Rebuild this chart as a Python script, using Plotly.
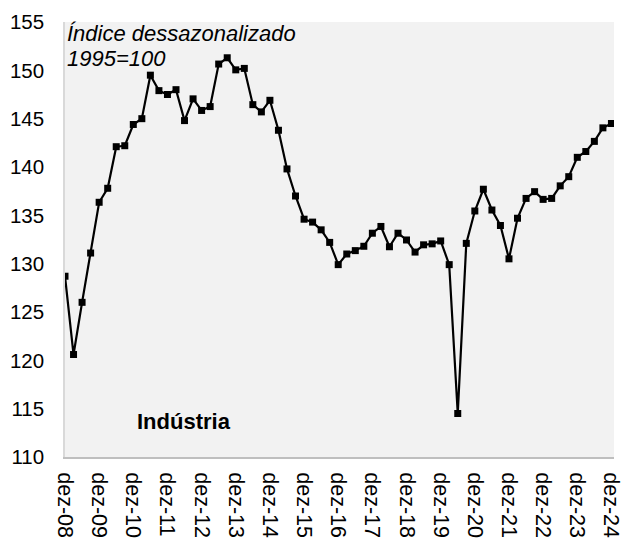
import plotly.graph_objects as go

# Quarterly index, dez-08 ... dez-24
quarters = list(range(65))
values = [
    128.7, 120.6, 126.0, 131.1,   # dez-08, mar-09, jun-09, set-09
    136.35, 137.8, 142.1, 142.2,  # dez-09 ...
    144.4, 145.0, 149.5, 147.9,   # dez-10 ...
    147.5, 148.0, 144.8, 147.05,  # dez-11 ...
    145.85, 146.25, 150.65, 151.3,  # dez-12 ...
    150.05, 150.2, 146.45, 145.7,   # dez-13 ...
    146.9, 143.8, 139.8, 137.0,     # dez-14 ...
    134.6, 134.3, 133.5, 132.2,     # dez-15 ...
    129.9, 131.0, 131.35, 131.8,    # dez-16 ...
    133.15, 133.85, 131.75, 133.15, # dez-17 ...
    132.45, 131.2, 131.95, 132.05,  # dez-18 ...
    132.35, 129.9, 114.5, 132.1,    # dez-19 ...
    135.45, 137.7, 135.55, 133.95,  # dez-20 ...
    130.5, 134.7, 136.75, 137.45,   # dez-21 ...
    136.65, 136.75, 138.05, 139.0,  # dez-22 ...
    141.0, 141.6, 142.65, 144.05,   # dez-23 ...
    144.5,                          # dez-24
]
tick_positions = list(range(0, 65, 4))
tick_labels = ["dez-%02d" % y for y in range(8, 25)]
y_ticks = list(range(110, 156, 5))

FONT = "Liberation Sans, Arial, sans-serif"

fig = go.Figure()
fig.add_trace(go.Scatter(
    x=quarters, y=values, mode="lines+markers",
    line=dict(color="black", width=2.2),
    marker=dict(symbol="square", size=7, color="black"),
    cliponaxis=True, showlegend=False, hoverinfo="skip",
))

fig.update_layout(
    width=624, height=539,
    margin=dict(l=65, r=10, t=22, b=82),
    paper_bgcolor="white", plot_bgcolor="#F2F2F2",
    font=dict(family=FONT, size=20, color="black"),
    xaxis=dict(
        range=[0, 64.3], tickmode="array", tickvals=tick_positions,
        ticktext=tick_labels, tickangle=90, showgrid=False, zeroline=False,
        showline=True, linecolor="#BFBFBF", linewidth=2, ticks="",
        tickfont=dict(size=21.5, family=FONT), automargin=False,
        ticklabelstandoff=9,
    ),
    yaxis=dict(
        range=[110, 155], tickmode="array", tickvals=y_ticks,
        showgrid=False, zeroline=False, showline=True, linecolor="#D9D9D9",
        linewidth=1.5, ticks="", tickfont=dict(size=20.5, family=FONT),
        automargin=False, ticklabelstandoff=15,
    ),
    annotations=[
        dict(text="<i>Índice dessazonalizado</i>", xref="paper",
             yref="paper", x=0.0, y=0.9725, xanchor="left", yanchor="middle",
             showarrow=False, align="left", font=dict(size=22, family=FONT)),
        dict(text="<i>1995=100</i>", xref="paper",
             yref="paper", x=0.0, y=0.915, xanchor="left", yanchor="middle",
             showarrow=False, align="left", font=dict(size=22, family=FONT)),
        dict(text="<b>Indústria</b>", xref="paper", yref="paper",
             x=0.128, y=0.082, xanchor="left", yanchor="middle",
             showarrow=False, font=dict(size=22, family=FONT)),
    ],
)

fig.write_html("out.html", config={"displayModeBar": False},
               post_script="document.body.style.margin='0';")
